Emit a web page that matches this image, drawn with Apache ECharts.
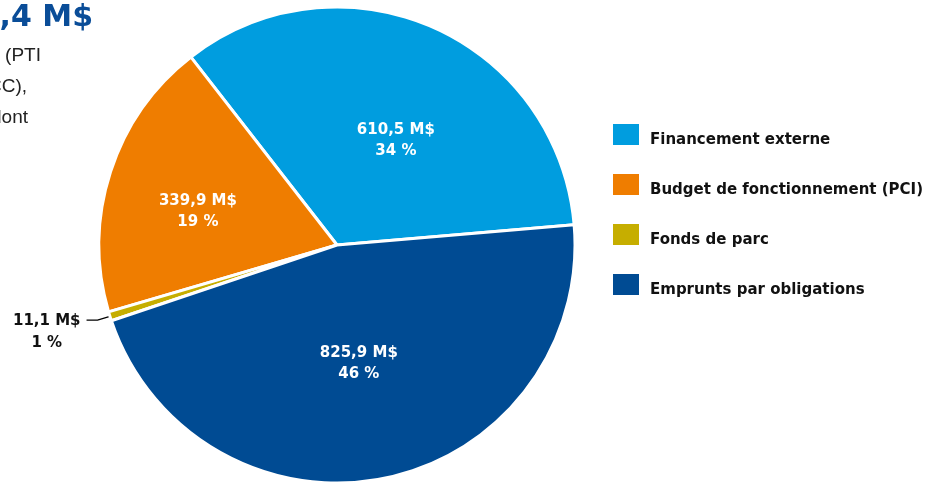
<!DOCTYPE html>
<html>
<head>
<meta charset="utf-8">
<script src="https://cdn.jsdelivr.net/npm/echarts@6/dist/echarts.min.js"></script>
<style>
html,body{margin:0;padding:0;background:#fff;}
#chart{width:931px;height:483px;}
</style>
</head>
<body>
<div id="chart"></div>
<script>
const categories = ['Financement externe', 'Budget de fonctionnement (PCI)', 'Fonds de parc', 'Emprunts par obligations'];
const values = [610.5, 339.9, 11.1, 825.9];
const percents = [34, 19, 1, 46];
const colors = ['#009ddf', '#ef7d00', '#c6ae00', '#004b93'];
const titleText = '1 787,4 M$';
const subtitleLines = ['Programme triennal d\u2019immobilisations (PTI', 'et plan de la CCC),', 'dont'];

const fmt = v => v.toFixed(1).replace('.', ',') + ' M$';
const BOLD = '"DejaVu Sans", Verdana, sans-serif';
const REG = '"Liberation Sans", Arial, Helvetica, sans-serif';

const labelOffsets = [[10, 7], [-23, 4], null, [-3, -1]];

const data = categories.map((name, i) => {
  const item = {
    name,
    value: values[i],
    itemStyle: { color: colors[i] }
  };
  if (i === 2) {
    item.label = {
      show: true,
      position: 'outside',
      color: '#111',
      fontSize: 15,
      fontWeight: 'bold',
      fontFamily: BOLD,
      lineHeight: 22,
      offset: [-1, 12],
      formatter: p => '{a|' + fmt(p.value) + '}\n{a|' + percents[p.dataIndex] + ' %}',
      rich: {
        a: { align: 'center', color: '#111', fontSize: 15, fontWeight: 'bold', fontFamily: BOLD, lineHeight: 22 }
      }
    };
    item.labelLine = {
      show: true,
      length: 13,
      length2: 11,
      lineStyle: { color: '#000', width: 1.3 }
    };
  } else {
    item.label = { offset: labelOffsets[i] };
    item.labelLine = { show: false };
  }
  return item;
});

const chart = echarts.init(document.getElementById('chart'), null, { renderer: 'canvas' });
chart.setOption({
  animation: false,
  textStyle: { fontFamily: BOLD },
  legend: {
    orient: 'vertical',
    left: 611,
    top: 122,
    padding: 0,
    itemWidth: 28,
    itemHeight: 23,
    itemGap: 24.5,
    icon: 'rect',
    data: categories,
    formatter: name => '{a|' + name + '}',
    textStyle: {
      fontSize: 15, fontWeight: 'bold', color: '#111', fontFamily: BOLD,
      rich: {
        a: { fontSize: 15, fontWeight: 'bold', color: '#111', fontFamily: BOLD, padding: [11, 0, 0, 5] }
      }
    },
    selectedMode: false
  },
  graphic: [
    {
      type: 'text', x: 93, y: 18,
      style: { text: titleText, fill: '#0a4d98', font: 'bold 30px ' + BOLD, align: 'right', verticalAlign: 'middle' }
    },
    {
      type: 'text', x: 41, y: 56,
      style: { text: subtitleLines[0], fill: '#222', font: '19px ' + REG, align: 'right', verticalAlign: 'middle' }
    },
    {
      type: 'text', x: 27, y: 87,
      style: { text: subtitleLines[1], fill: '#222', font: '19px ' + REG, align: 'right', verticalAlign: 'middle' }
    },
    {
      type: 'text', x: 28, y: 118,
      style: { text: subtitleLines[2], fill: '#222', font: '19px ' + REG, align: 'right', verticalAlign: 'middle' }
    }
  ],
  series: [{
    type: 'pie',
    center: [337, 245],
    radius: 238,
    startAngle: 4.9,
    clockwise: false,
    avoidLabelOverlap: false,
    itemStyle: { borderColor: '#fff', borderWidth: 3 },
    label: {
      show: true,
      position: 'inside',
      color: '#fff',
      fontSize: 15,
      fontWeight: 'bold',
      lineHeight: 21,
      fontFamily: BOLD,
      formatter: p => fmt(p.value) + '\n' + percents[p.dataIndex] + ' %'
    },
    emphasis: { disabled: true },
    data
  }]
});
</script>
</body>
</html>
